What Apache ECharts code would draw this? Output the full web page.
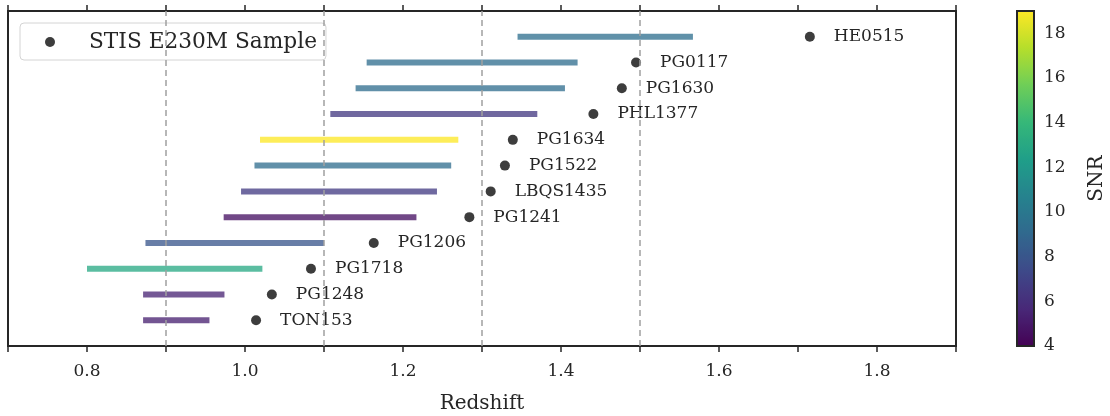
<!DOCTYPE html>
<html>
<head>
<meta charset="utf-8">
<script src="https://cdn.jsdelivr.net/npm/echarts@6/dist/echarts.min.js"></script>
<style>
  html, body { margin: 0; padding: 0; background: #ffffff; }
  #chart { width: 1110px; height: 416px; }
</style>
</head>
<body>
<div id="chart"></div>
<script>
// Quasar sightlines, bottom to top
const names = ['TON153', 'PG1248', 'PG1718', 'PG1206', 'PG1241', 'LBQS1435',
               'PG1522', 'PG1634', 'PHL1377', 'PG1630', 'PG0117', 'HE0515'];
// Emission redshift of each quasar
const qsoRedshift = [1.014, 1.034, 1.0835, 1.163, 1.284, 1.311,
                     1.329, 1.339, 1.441, 1.477, 1.495, 1.715];
// Redshift coverage of each sightline (start / end)
const zStart = [0.871, 0.871, 0.800, 0.874, 0.973, 0.995,
                1.012, 1.019, 1.108, 1.140, 1.154, 1.345];
const zEnd   = [0.955, 0.974, 1.022, 1.100, 1.217, 1.243,
                1.261, 1.270, 1.370, 1.405, 1.421, 1.567];
// Signal-to-noise ratio of each spectrum
const snr = [5.3, 5.5, 13.0, 8.0, 4.6, 6.6, 9.3, 19.0, 6.5, 9.3, 9.3, 9.4];

// Axis ticks
const xTickLabels = [0.8, 1.0, 1.2, 1.4, 1.6, 1.8];
const snrTicks = [4, 6, 8, 10, 12, 14, 16, 18];
const refLines = [0.9, 1.1, 1.3, 1.5];

const viridis = ['#440154', '#482878', '#3e4989', '#31688e', '#26828e',
                 '#1f9e89', '#35b779', '#6ece58', '#b5de2b', '#fde725'];

const FONT = 'DejaVu Serif';
const INK = '#262626';

const coverage = names.map((n, i) => [zStart[i], i, zEnd[i], snr[i]]);
const qsoPoints = names.map((n, i) => [qsoRedshift[i], i, n]);

const chart = echarts.init(document.getElementById('chart'), null, { renderer: 'canvas' });

chart.setOption({
  animation: false,
  backgroundColor: '#ffffff',
  textStyle: { fontFamily: FONT, color: INK },
  grid: [
    { left: 8, width: 948, top: 11, height: 335, show: true, outerBoundsMode: 'none',
      borderColor: INK, borderWidth: 2, backgroundColor: 'transparent' },
    { left: 1017, width: 17, top: 11, height: 335, show: true, z: 10, outerBoundsMode: 'none',
      borderColor: INK, borderWidth: 2, backgroundColor: 'transparent' }
  ],
  xAxis: [
    { type: 'value', gridIndex: 0, position: 'bottom', min: 0.7, max: 1.9, interval: 0.1,
      name: 'Redshift', nameLocation: 'middle', nameGap: 48,
      nameTextStyle: { fontFamily: FONT, fontSize: 20, color: INK },
      axisLine: { show: true, onZero: false, lineStyle: { color: INK, width: 2 } },
      axisTick: { show: true, length: 6, lineStyle: { color: INK, width: 1.5 } },
      axisLabel: { show: true, customValues: xTickLabels, margin: 17,
        fontFamily: FONT, fontSize: 17, color: INK,
        formatter: v => v.toFixed(1) },
      splitLine: { show: false } },
    { type: 'value', gridIndex: 0, position: 'top', min: 0.7, max: 1.9, interval: 0.1,
      axisLine: { show: true, onZero: false, lineStyle: { color: INK, width: 2 } },
      axisTick: { show: true, length: 6, lineStyle: { color: INK, width: 1.5 } },
      axisLabel: { show: false },
      splitLine: { show: false } },
    { type: 'value', gridIndex: 1, min: 0, max: 1, show: false }
  ],
  yAxis: [
    { type: 'value', gridIndex: 0, min: -1, max: 12, show: false },
    { type: 'value', gridIndex: 1, position: 'right', min: 4, max: 19,
      name: 'SNR', nameLocation: 'middle', nameRotate: 90, nameGap: 53,
      nameTextStyle: { fontFamily: FONT, fontSize: 20, color: INK },
      axisLine: { show: false },
      axisTick: { show: true, customValues: snrTicks, length: 6, lineStyle: { color: INK, width: 1.5 } },
      axisLabel: { show: true, customValues: snrTicks, margin: 10,
        fontFamily: FONT, fontSize: 17, color: INK },
      splitLine: { show: false } }
  ],
  visualMap: {
    type: 'continuous',
    seriesIndex: 0,
    dimension: 3,
    min: 4,
    max: 19,
    orient: 'vertical',
    left: 1017,
    top: 11,
    itemWidth: 17,
    itemHeight: 335,
    padding: 0,
    calculable: false,
    hoverLink: false,
    text: null,
    inRange: { color: viridis }
  },
  legend: {
    data: ['STIS E230M Sample'],
    left: 20,
    top: 23,
    orient: 'vertical',
    padding: [8, 9, 7, 25],
    itemWidth: 50,
    itemHeight: 10,
    icon: 'circle',
    itemStyle: { color: '#3d3d3d', opacity: 1 },
    backgroundColor: 'rgba(255,255,255,0.8)',
    borderColor: '#d4d4d4',
    borderWidth: 1,
    borderRadius: 4,
    textStyle: { fontFamily: FONT, fontSize: 21.7, color: INK, padding: [0, 0, 0, 9] }
  },
  series: [
    {
      type: 'custom',
      name: 'coverage',
      xAxisIndex: 0,
      yAxisIndex: 0,
      data: coverage,
      encode: { x: [0, 2], y: 1 },
      renderItem: function (params, api) {
        const row = api.value(1);
        const a = api.coord([api.value(0), row]);
        const b = api.coord([api.value(2), row]);
        return {
          type: 'line',
          shape: { x1: a[0], y1: a[1], x2: b[0], y2: b[1] },
          style: { stroke: api.visual('color'), lineWidth: 6, opacity: 0.76 }
        };
      },
      z: 2
    },
    {
      type: 'scatter',
      name: 'STIS E230M Sample',
      xAxisIndex: 0,
      yAxisIndex: 0,
      data: qsoPoints,
      symbol: 'circle',
      symbolSize: 10,
      itemStyle: { color: '#3d3d3d', opacity: 1 },
      label: {
        show: true,
        position: 'right',
        distance: 19,
        formatter: p => p.data[2],
        fontFamily: FONT,
        fontSize: 17,
        color: INK,
        opacity: 1
      },
      markLine: {
        silent: true,
        symbol: 'none',
        label: { show: false },
        lineStyle: { color: '#a0a0a0', type: [6, 4], width: 1.5 },
        data: refLines.map(v => ({ xAxis: v }))
      },
      z: 3
    }
  ]
});
</script>
</body>
</html>
